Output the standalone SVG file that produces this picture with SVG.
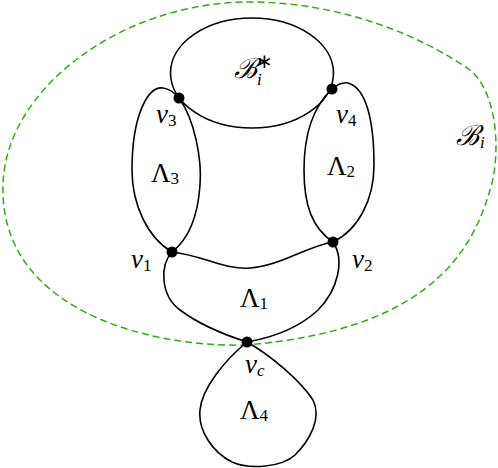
<svg xmlns="http://www.w3.org/2000/svg" width="498" height="468" viewBox="0 0 498 468">
<style>
.e{fill:none;stroke:#000;stroke-width:1.6}
.g{fill:none;stroke:#33aa11;stroke-width:1.5;stroke-dasharray:7 4}
.d{fill:#000}
</style>
<rect width="498" height="468" fill="#fff"/>
<g id="boundary">
<path class="g" d="M247,345 C180,347 90,330 40,280 C10,250 2,215 3,185 C5,90 120,2 250,2 C340,2 420,35 470,70 C500,95 500,160 490,190 C470,260 420,330 247,345 Z"/>
</g>
<g id="connectors">
<ellipse id="Bstar-curve" class="e" cx="252" cy="73" rx="81.5" ry="55"/>
<path class="e" d="M172,252 C148,238 132,205 132,170 C132,115 148,86 163,88 C170,89 175,93 179,98"/>
<path class="e" d="M179,98 C195,120 202,160 200,185 C198,215 190,238 172,252"/>
<path class="e" d="M332,89 C338,84 343,82 348,83 C366,88 374,120 374,165 C374,200 358,230 333,242"/>
<path class="e" d="M333,242 C312,228 304,205 304,170 C304,130 315,105 332,89"/>
<path class="e" d="M172,252 C205,256 225,270 250,268 C280,266 305,247 333,242"/>
<path class="e" d="M172,252 C160,265 160,295 180,310 C200,325 225,335 247,342"/>
<path class="e" d="M333,242 C345,260 338,290 318,310 C300,327 275,337 247,342"/>
<path class="e" d="M247,342 C270,355 300,380 313,400 C322,418 310,440 295,455 C282,467 250,470 232,462 C212,452 198,430 200,410 C202,388 225,360 247,342"/>
</g>
<g font-family="Liberation Serif, serif" font-size="27" fill="#000">
<g id="v3"><circle class="d" cx="179" cy="98" r="5.5"/><text x="156" y="123"><tspan font-style="italic">v</tspan><tspan font-size="17" dy="3">3</tspan></text></g>
<g id="v4"><circle class="d" cx="332" cy="89" r="5.5"/><text x="336" y="123"><tspan font-style="italic">v</tspan><tspan font-size="17" dy="3">4</tspan></text></g>
<g id="v1"><circle class="d" cx="172" cy="252" r="5.5"/><text x="131" y="268"><tspan font-style="italic">v</tspan><tspan font-size="17" dy="3">1</tspan></text></g>
<g id="v2"><circle class="d" cx="333" cy="242" r="5.5"/><text x="352" y="268"><tspan font-style="italic">v</tspan><tspan font-size="17" dy="3">2</tspan></text></g>
<g id="vc"><circle class="d" cx="247" cy="342" r="5.5"/><text x="245" y="373"><tspan font-style="italic">v</tspan><tspan font-size="17" font-style="italic" dy="3">c</tspan></text></g>
<g id="Bstar">
<text x="234" y="78" font-family="DejaVu Serif, serif" font-style="italic" font-size="28">ℬ</text>
<text x="256" y="68" font-size="20">∗</text>
<text x="257" y="85" font-size="17" font-style="italic">i</text>
</g>
<g id="Bi"><text x="456" y="145"><tspan font-family="DejaVu Serif, serif" font-style="italic" font-size="28">ℬ</tspan><tspan font-size="17" font-style="italic" dx="1" dy="3">i</tspan></text></g>
<g id="L3"><text x="151" y="182">Λ<tspan font-size="17" dy="2">3</tspan></text></g>
<g id="L2"><text x="327" y="175">Λ<tspan font-size="17" dy="2">2</tspan></text></g>
<g id="L1"><text x="240" y="307">Λ<tspan font-size="17" dy="2">1</tspan></text></g>
<g id="L4"><text x="240" y="419">Λ<tspan font-size="17" dy="2">4</tspan></text></g>
</g>
</svg>
